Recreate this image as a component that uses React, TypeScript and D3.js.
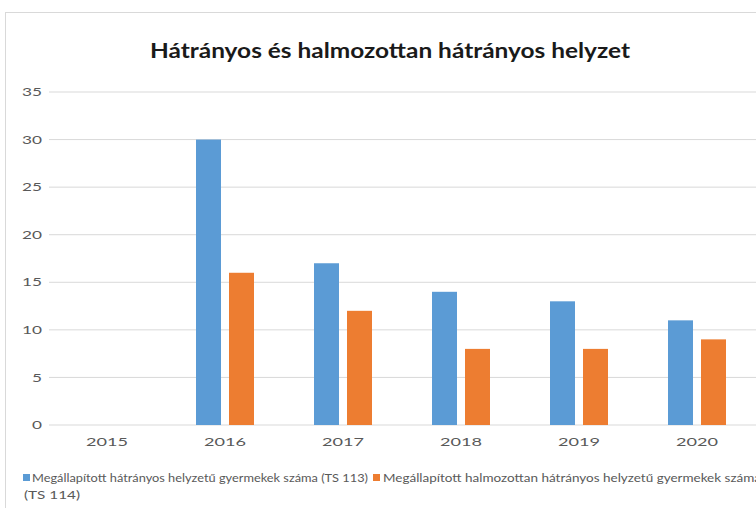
import React from "react";
import * as d3 from "d3";

const categories = ["2015", "2016", "2017", "2018", "2019", "2020"];
const seriesHatranyos = [0, 30, 17, 14, 13, 11];
const seriesHalmozott = [0, 16, 12, 8, 8, 9];
const yTicks = [0, 5, 10, 15, 20, 25, 30, 35];
const seriesNames = [
  "Megállapított hátrányos helyzetű gyermekek száma (TS 113)",
  "Megállapított halmozottan hátrányos helyzetű gyermekek száma",
];
const legendSecondLine = "(TS 114)";
const title = "Hátrányos és halmozottan hátrányos helyzet";

const W = 756;
const H = 508;
const BLUE = "#5B9BD5";
const ORANGE = "#ED7D31";

export default function App() {
  const x = d3.scaleBand().domain(categories).range([48, 756]).paddingInner(0).paddingOuter(0);
  const y = d3.scaleLinear().domain([0, 35]).range([425, 92]);
  const barW = 25;
  const gap = 8;
  const font = "Lato, 'Open Sans', sans-serif";

  return (
    <svg
      width={W}
      height={H}
      style={{ position: "absolute", left: 0, top: 0, background: "#fff" }}
      viewBox={`0 0 ${W} ${H}`}
    >
      <rect x={5.5} y={12.5} width={W} height={H} fill="#fff" stroke="#d9d9d9" strokeWidth={1} />
      <text
        x={150}
        y={58}
        fontFamily={font}
        fontWeight="bold"
        fontSize={20}
        fill="#1a1a1a"
        textLength={480}
        lengthAdjust="spacingAndGlyphs"
      >
        {title}
      </text>
      {yTicks.map((t) => (
        <g key={t}>
          <line x1={49} x2={W} y1={y(t)} y2={y(t)} stroke="#d9d9d9" strokeWidth={1} />
          <text
            x={42}
            y={y(t)}
            dy="0.35em"
            textAnchor="end"
            fontFamily={font}
            fontSize={12}
            fill="#595959"
            textLength={String(t).length * 10}
            lengthAdjust="spacingAndGlyphs"
          >
            {t}
          </text>
        </g>
      ))}
      {categories.map((c, i) => {
        const cx = (x(c) as number) + x.bandwidth() / 2;
        return (
          <g key={c}>
            {seriesHatranyos[i] > 0 && (
              <rect
                x={cx - gap / 2 - barW}
                y={y(seriesHatranyos[i])}
                width={barW}
                height={y(0) - y(seriesHatranyos[i])}
                fill={BLUE}
              />
            )}
            {seriesHalmozott[i] > 0 && (
              <rect
                x={cx + gap / 2}
                y={y(seriesHalmozott[i])}
                width={barW}
                height={y(0) - y(seriesHalmozott[i])}
                fill={ORANGE}
              />
            )}
            <text
              x={cx - 21}
              y={446}
              fontFamily={font}
              fontSize={12}
              fill="#595959"
              textLength={42}
              lengthAdjust="spacingAndGlyphs"
            >
              {c}
            </text>
          </g>
        );
      })}
      <rect x={23} y={474} width={7} height={7} fill={BLUE} />
      <text
        x={32}
        y={482}
        fontFamily={font}
        fontSize={12}
        fill="#595959"
        textLength={336}
        lengthAdjust="spacingAndGlyphs"
      >
        {seriesNames[0]}
      </text>
      <rect x={373} y={474} width={7} height={7} fill={ORANGE} />
      <text
        x={383}
        y={482}
        fontFamily={font}
        fontSize={12}
        fill="#595959"
        textLength={378}
        lengthAdjust="spacingAndGlyphs"
      >
        {seriesNames[1]}
      </text>
      <text
        x={24}
        y={499}
        fontFamily={font}
        fontSize={12}
        fill="#595959"
        textLength={56}
        lengthAdjust="spacingAndGlyphs"
      >
        {legendSecondLine}
      </text>
    </svg>
  );
}
